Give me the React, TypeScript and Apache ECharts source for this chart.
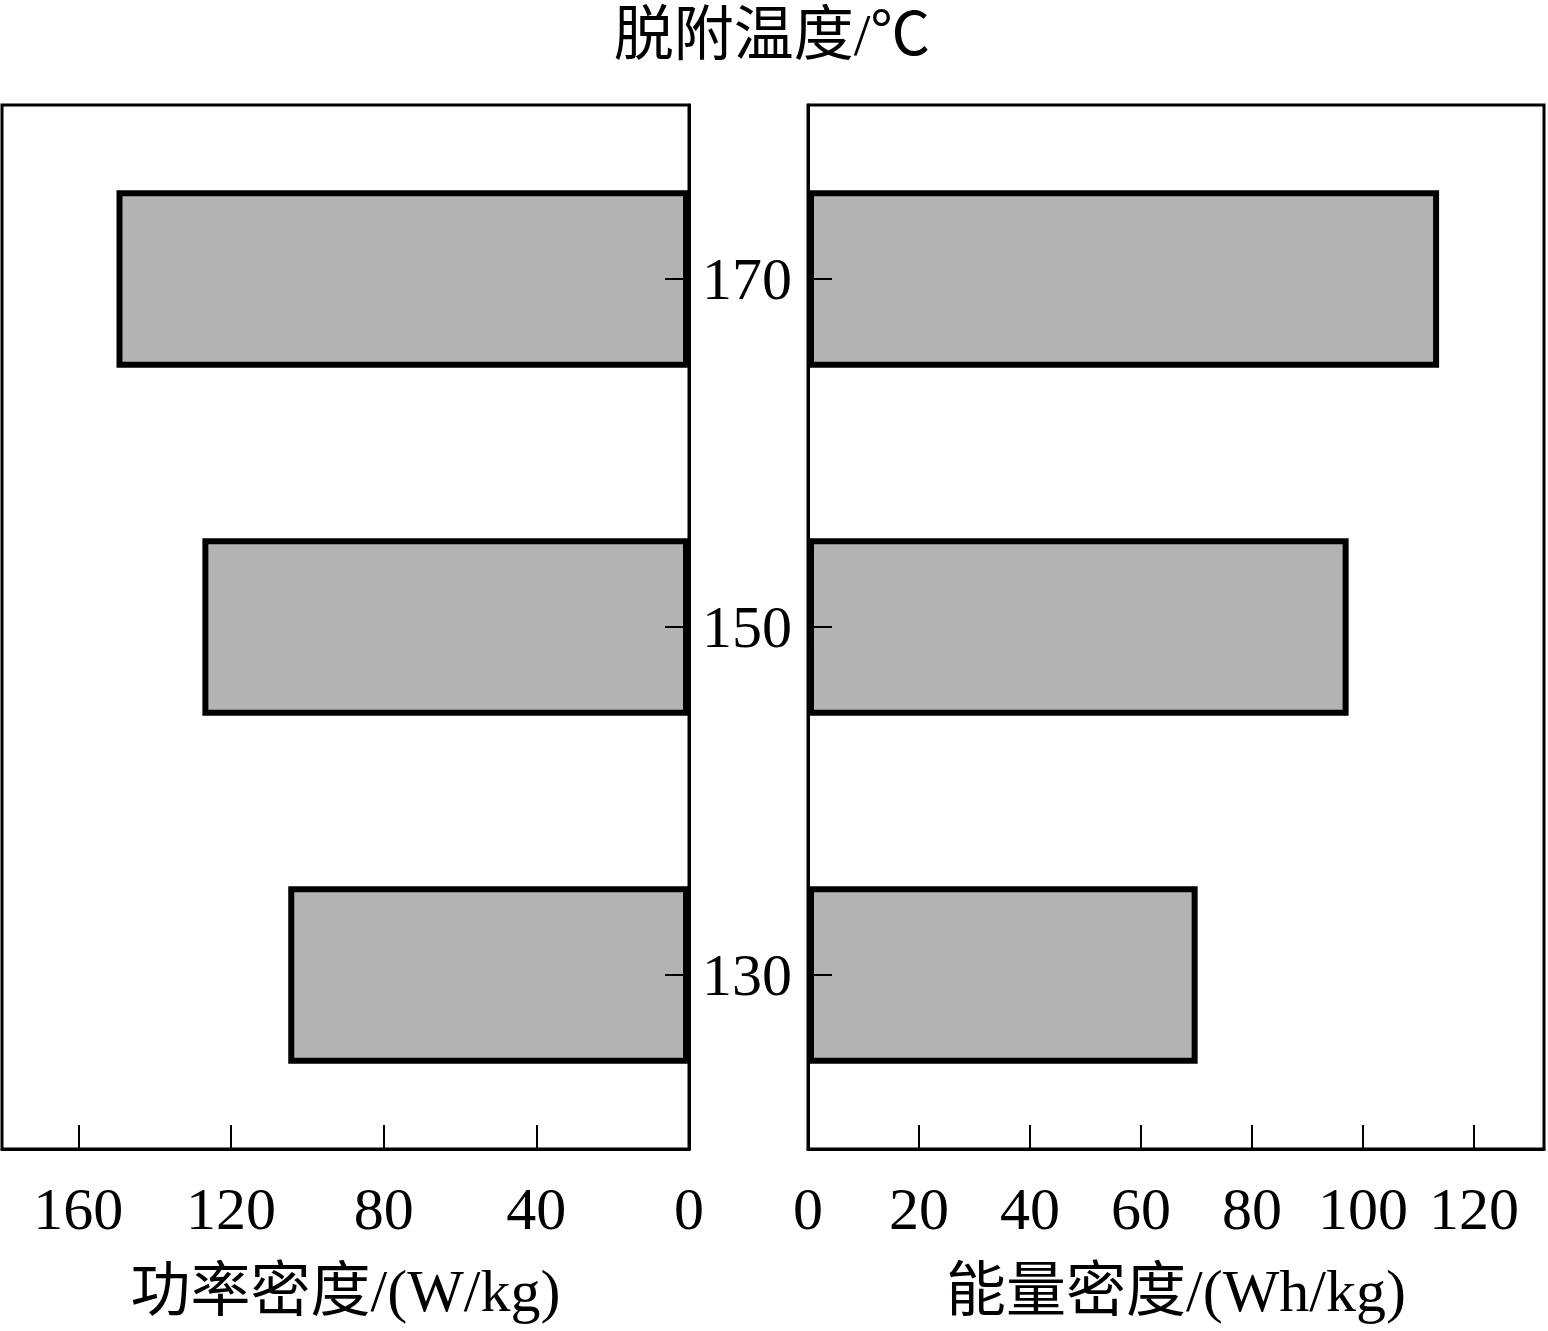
import React, { useEffect, useRef } from "react";
import * as echarts from "echarts";

const categories = ["130", "150", "170"];
const powerDensity = [105, 127.5, 150];
const energyDensity = [70.2, 97.4, 113.7];
const titleText = "脱附温度/℃";
const leftAxisName = "功率密度/(W/kg)";
const rightAxisName = "能量密度/(Wh/kg)";

const FONT = "'Liberation Serif', 'Times New Roman', 'Noto Sans CJK SC', serif";

export default function App() {
  const ref = useRef<HTMLDivElement>(null);
  useEffect(() => {
    if (!ref.current) return;
    const chart = echarts.init(ref.current, undefined, { renderer: "svg" });
    const axisLine = { show: true, lineStyle: { color: "#000", width: 3 } };
    const tickStyle = { color: "#000", width: 2 };
    const option = {
      animation: false,
      backgroundColor: "#fff",
      textStyle: { fontFamily: FONT, color: "#000" },
      graphic: [
        {
          type: "text",
          x: 772,
          y: 35,
          style: {
            text: titleText,
            fontSize: 60,
            fontFamily: FONT,
            fill: "#000",
            align: "center",
            verticalAlign: "middle",
          },
        },
      ],
      grid: [
        { left: 2, top: 105, width: 687, height: 1044, show: true, borderColor: "#000", borderWidth: 3, containLabel: false },
        { left: 808, top: 105, width: 736, height: 1044, show: true, borderColor: "#000", borderWidth: 3, containLabel: false },
      ],
      xAxis: [
        {
          type: "value",
          gridIndex: 0,
          inverse: true,
          min: 0,
          max: 180,
          interval: 40,
          position: "bottom",
          z: 10,
          axisLine,
          axisTick: { show: true, inside: true, length: 24, lineStyle: tickStyle },
          splitLine: { show: false },
          axisLabel: { show: true, margin: 30, fontSize: 60, fontFamily: FONT, color: "#000", showMaxLabel: false },
          name: leftAxisName,
          nameLocation: "middle",
          nameGap: 112,
          nameTextStyle: { fontSize: 60, fontFamily: FONT, color: "#000" },
        },
        {
          type: "value",
          gridIndex: 1,
          min: 0,
          max: 132.6,
          interval: 20,
          position: "bottom",
          z: 10,
          axisLine,
          axisTick: { show: true, inside: true, length: 24, lineStyle: tickStyle },
          splitLine: { show: false },
          axisLabel: { show: true, margin: 30, fontSize: 60, fontFamily: FONT, color: "#000", showMaxLabel: false },
          name: rightAxisName,
          nameLocation: "middle",
          nameGap: 112,
          nameTextStyle: { fontSize: 60, fontFamily: FONT, color: "#000" },
        },
      ],
      yAxis: [
        {
          type: "category",
          gridIndex: 0,
          data: categories,
          position: "right",
          z: 10,
          axisLine,
          axisTick: { show: true, inside: true, length: 24, alignWithLabel: true, lineStyle: tickStyle },
          axisLabel: { show: false },
          splitLine: { show: false },
        },
        {
          type: "category",
          gridIndex: 1,
          data: categories,
          position: "left",
          z: 10,
          axisLine,
          axisTick: { show: true, inside: true, length: 24, alignWithLabel: true, lineStyle: tickStyle },
          axisLabel: { show: true, margin: 16, fontSize: 60, fontFamily: FONT, color: "#000" },
          splitLine: { show: false },
        },
      ],
      series: [
        {
          type: "bar",
          xAxisIndex: 0,
          yAxisIndex: 0,
          data: powerDensity,
          barWidth: "51%",
          itemStyle: { color: "#b3b3b3", borderColor: "#000", borderWidth: 6 },
        },
        {
          type: "bar",
          xAxisIndex: 1,
          yAxisIndex: 1,
          data: energyDensity,
          barWidth: "51%",
          itemStyle: { color: "#b3b3b3", borderColor: "#000", borderWidth: 6 },
        },
      ],
    };
    chart.setOption(option as any);
    return () => chart.dispose();
  }, []);
  return (
    <div
      ref={ref}
      style={{ position: "absolute", left: 0, top: 0, width: 1548, height: 1331, background: "#fff" }}
    />
  );
}
